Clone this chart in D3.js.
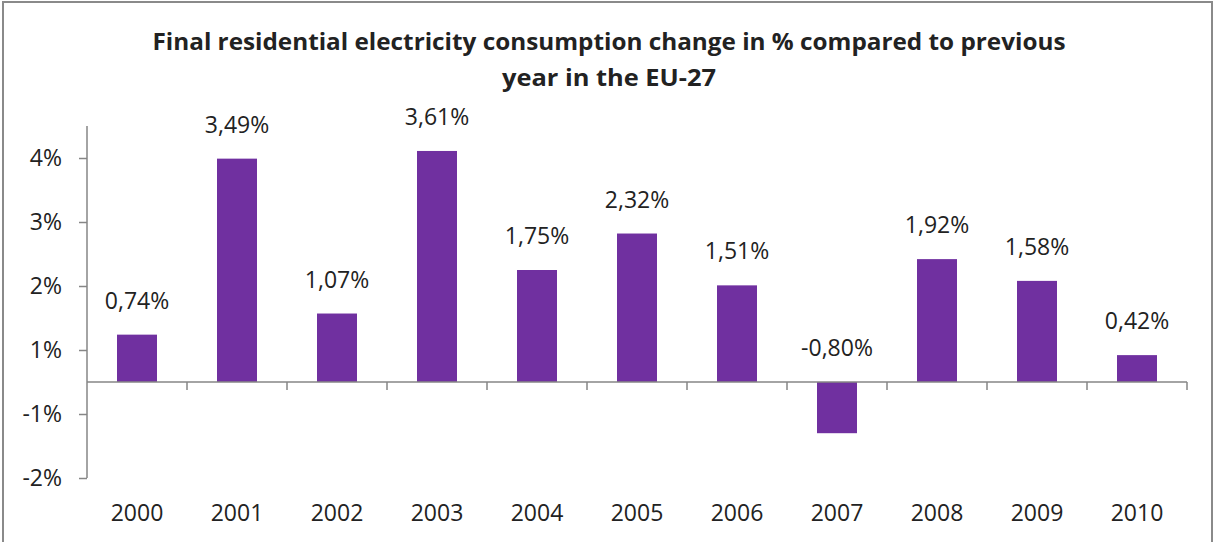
<!DOCTYPE html>
<html>
<head>
<meta charset="utf-8">
<script src="https://cdn.jsdelivr.net/npm/d3@7"></script>
<style>
  body { margin: 0; background: #fff; }
  text { font-family: "Open Sans", sans-serif; fill: #222; }
</style>
</head>
<body>
<div id="chart"></div>
<script>
// data
var years = ["2000", "2001", "2002", "2003", "2004", "2005", "2006", "2007", "2008", "2009", "2010"];
var changes = [0.74, 3.49, 1.07, 3.61, 1.75, 2.32, 1.51, -0.80, 1.92, 1.58, 0.42];
var valueLabels = ["0,74%", "3,49%", "1,07%", "3,61%", "1,75%", "2,32%", "1,51%", "-0,80%", "1,92%", "1,58%", "0,42%"];
// the source axis has ticks on the half values, shown rounded
var yTicks = [-1.5, -0.5, 0.5, 1.5, 2.5, 3.5];
var yTickLabels = ["-2%", "-1%", "1%", "2%", "3%", "4%"];
var titleLines = ["Final residential electricity consumption change in % compared to previous", "year in the EU-27"];

var svgWidth = 1215;
var svgHeight = 542;

var margin = { top: 126, right: 28, bottom: 64, left: 87 };
var width = svgWidth - margin.left - margin.right;
var height = svgHeight - margin.top - margin.bottom;

var svg = d3.select("#chart")
    .append("svg")
    .attr("width", svgWidth)
    .attr("height", svgHeight);

// outer frame
svg.append("rect")
    .attr("x", 3)
    .attr("y", 2)
    .attr("width", 1209)
    .attr("height", 560)
    .attr("fill", "none")
    .attr("stroke", "#8a8a8a")
    .attr("stroke-width", 2);

// title
var titleWidths = [913, 214];
svg.selectAll(".title")
    .data(titleLines)
    .enter()
    .append("text")
    .attr("class", "title")
    .attr("x", 609)
    .attr("y", (d, i) => 50 + i * 36)
    .attr("text-anchor", "middle")
    .attr("font-size", 23)
    .attr("font-weight", "bold")
    .attr("textLength", (d, i) => titleWidths[i])
    .attr("lengthAdjust", "spacingAndGlyphs")
    .text(d => d);

var chartGroup = svg.append("g")
    .attr("transform", `translate(${margin.left}, ${margin.top})`);

var x = d3.scaleBand()
    .domain(years)
    .range([0, width])
    .paddingInner(0.6)
    .paddingOuter(0.3);

var y = d3.scaleLinear()
    .domain([-1.5, 4])
    .range([height, 0]);

var axisColor = "#868686";

// y axis
var leftAxis = d3.axisLeft(y)
    .tickValues(yTicks)
    .tickSize(8)
    .tickPadding(10)
    .tickFormat((d, i) => yTickLabels[i]);

var yAxis = chartGroup.append("g").call(leftAxis);
yAxis.select(".domain").attr("stroke", axisColor).attr("stroke-width", 1.5)
    .attr("d", `M0,${height}V0`);
yAxis.selectAll(".tick line").attr("stroke", axisColor).attr("stroke-width", 1.5);
yAxis.selectAll(".tick text")
    .attr("font-size", 23)
    .attr("font-family", "Open Sans, sans-serif")
    .attr("fill", "#222")
    .attr("x", -25);

// bars
chartGroup.selectAll(".bar")
    .data(changes)
    .enter()
    .append("rect")
    .attr("class", "bar")
    .attr("x", (d, i) => x(years[i]))
    .attr("y", d => y(Math.max(0, d)))
    .attr("width", x.bandwidth())
    .attr("height", d => Math.abs(y(d) - y(0)))
    .attr("fill", "#7030a0");

// x axis on zero line, ticks between categories
var xAxisG = chartGroup.append("g")
    .attr("transform", `translate(0, ${y(0)})`);

xAxisG.append("line")
    .attr("x1", 0)
    .attr("x2", width)
    .attr("stroke", axisColor)
    .attr("stroke-width", 1.5);

xAxisG.selectAll(".xtick")
    .data(years)
    .enter()
    .append("line")
    .attr("class", "xtick")
    .attr("x1", d => x(d) + x.bandwidth() / 2 + x.step() / 2)
    .attr("x2", d => x(d) + x.bandwidth() / 2 + x.step() / 2)
    .attr("y1", 0)
    .attr("y2", 8)
    .attr("stroke", axisColor)
    .attr("stroke-width", 1.5);

// year labels at the bottom
chartGroup.selectAll(".year")
    .data(years)
    .enter()
    .append("text")
    .attr("class", "year")
    .attr("x", d => x(d) + x.bandwidth() / 2)
    .attr("y", height + 43)
    .attr("text-anchor", "middle")
    .attr("font-size", 23)
    .text(d => d);

// value labels
chartGroup.selectAll(".vlabel")
    .data(changes)
    .enter()
    .append("text")
    .attr("class", "vlabel")
    .attr("x", (d, i) => x(years[i]) + x.bandwidth() / 2)
    .attr("y", d => y(Math.max(0, d)) - 26)
    .attr("text-anchor", "middle")
    .attr("font-size", 23)
    .text((d, i) => valueLabels[i]);
</script>
</body>
</html>
